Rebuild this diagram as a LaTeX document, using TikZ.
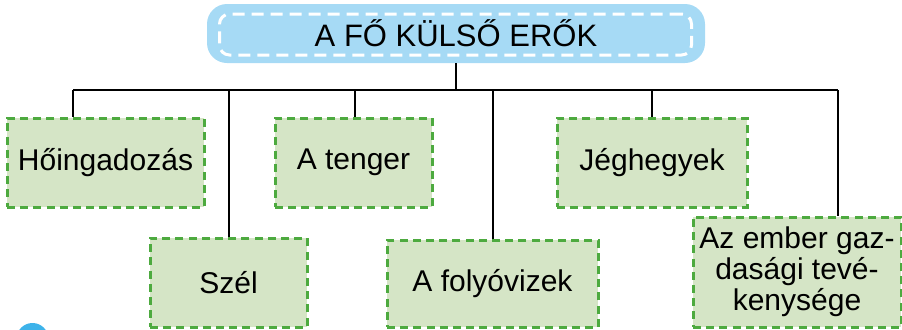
\documentclass[tikz,border=0pt]{standalone}
\usepackage{fontspec}
\setmainfont{Liberation Sans}
\definecolor{boxgreen}{HTML}{4DAA3F}
\definecolor{boxfill}{HTML}{D5E5C6}
\definecolor{topblue}{HTML}{A6DAF5}
\definecolor{iconblue}{HTML}{3DB3EA}
\tikzset{
  gbox/.style={draw=boxgreen, fill=boxfill, line width=1.5pt, dash pattern=on 4pt off 2.6pt,
    inner sep=0pt, align=center, font=\fontsize{15}{15.5}\selectfont},
  conn/.style={draw=black, line width=1pt},
}
\begin{document}
\begin{tikzpicture}[x=0.5pt,y=-0.5pt]
\useasboundingbox (0,0) rectangle (902,329);
\begin{scope}
  \clip (0,0) rectangle (902,329);
  \fill[iconblue] (32.5,339) circle (8pt);
\end{scope}
% title
\node[fill=topblue, rounded corners=10pt, minimum width=249pt, minimum height=29.5pt,
      inner sep=0pt, font=\fontsize{15.5}{16}\selectfont] (top) at (456,33.5) {A FŐ KÜLSŐ ERŐK};
\node[draw=white, line width=1.5pt, dash pattern=on 6pt off 3.5pt, rounded corners=5pt,
      minimum width=236pt, minimum height=20.5pt, inner sep=0pt] (topin) at (455.5,34.5) {};
% boxes
\node[gbox, minimum width=98.5pt, minimum height=44.5pt] (hoi) at (105.5,162.5) {Hőingadozás};
\node[gbox, minimum width=78.5pt, minimum height=44.5pt] (szel) at (228.5,282.5) {Szél};
\node[gbox, minimum width=78.5pt, minimum height=44.5pt] (tenger) at (353.5,162.5) {A tenger};
\node[gbox, minimum width=105.5pt, minimum height=43.5pt] (foly) at (492.5,283.5) {A folyóvizek};
\node[gbox, minimum width=95pt, minimum height=44.5pt] (jeg) at (652,162.5) {Jéghegyek};
\node[gbox, minimum width=104pt, minimum height=55pt] (ember) at (797,272) {Az ember gaz-\\dasági tevé-\\kenysége};
% bus
\coordinate (b1) at (73,90);
\coordinate (b2) at (228.5,90);
\coordinate (b3) at (355,90);
\coordinate (b4) at (492.5,90);
\coordinate (b5) at (652,90);
\coordinate (b6) at (838,90);
\draw[conn] (top.south) -- (top.south |- b1);
\draw[conn] (b1) -- (b6);
\draw[conn] (b1) -- (b1 |- hoi.north);
\draw[conn] (b2) -- (szel.north);
\draw[conn] (b3) -- (b3 |- tenger.north);
\draw[conn] (b4) -- (foly.north);
\draw[conn] (b5) -- (jeg.north);
\draw[conn] (b6) -- (b6 |- ember.north);
\end{tikzpicture}
\end{document}
